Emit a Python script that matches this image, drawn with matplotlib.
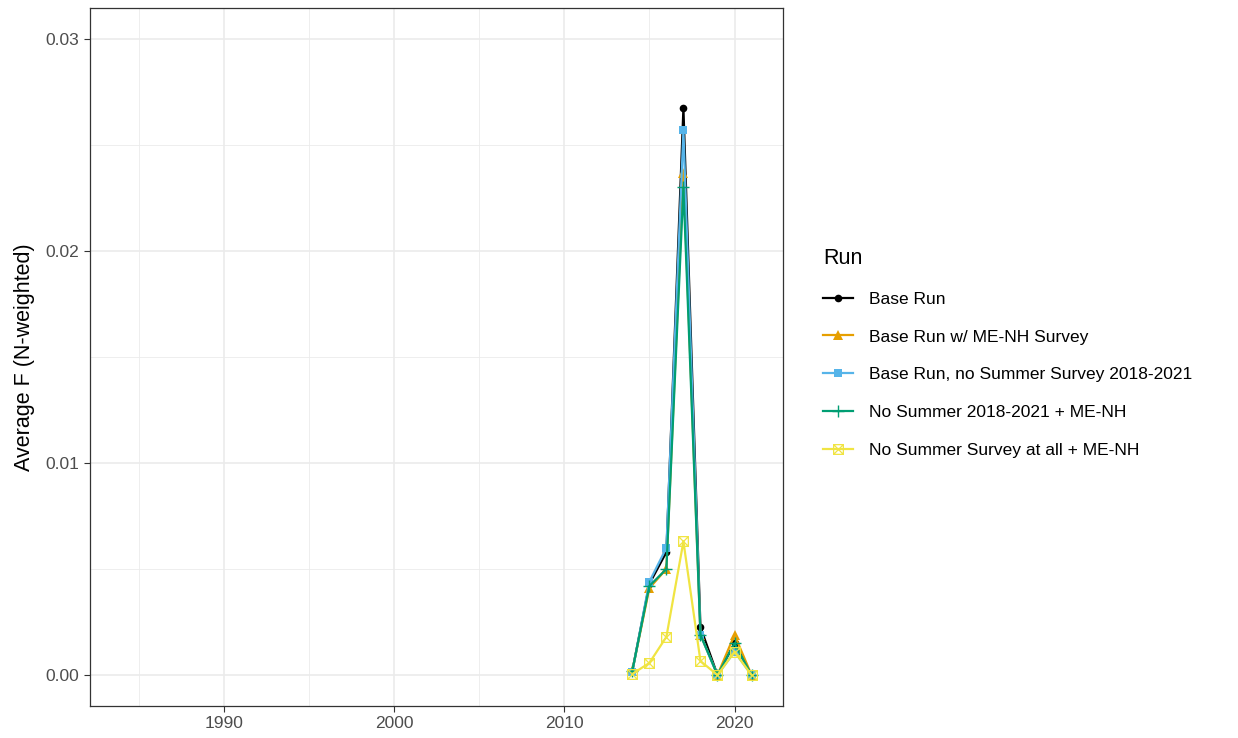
import matplotlib.pyplot as plt
import numpy as np
from matplotlib.path import Path

plt.rcParams['font.family'] = ['Liberation Sans', 'DejaVu Sans']

years = [2014, 2015, 2016, 2017, 2018, 2019, 2020, 2021]
runs = ['Base Run', 'Base Run w/ ME-NH Survey', 'Base Run, no Summer Survey 2018-2021',
        'No Summer 2018-2021 + ME-NH', 'No Summer Survey at all + ME-NH']
base = [0.0002, 0.0043, 0.0058, 0.02675, 0.00226, 0.0, 0.0015, 0.0]
base_menh = [0.0002, 0.0041, 0.0050, 0.0237, 0.0019, 0.0, 0.0019, 0.0]
base_nosummer = [0.00015, 0.0044, 0.0060, 0.0257, 0.0019, 0.0, 0.0011, 0.0]
nosummer_menh = [0.0002, 0.0042, 0.0050, 0.0230, 0.0019, 0.0, 0.0015, 0.0]
nosummer_all = [0.00005, 0.00057, 0.0018, 0.0063, 0.00066, 0.0, 0.0011, 0.0]
series = [base, base_menh, base_nosummer, nosummer_menh, nosummer_all]

colors = ['#000000', '#E69F00', '#56B4E9', '#009E73', '#F0E442']

# square with a cross inside (ggplot shape 7)
sqx = Path([(-1, -1), (1, -1), (1, 1), (-1, 1), (-1, -1), (-1, -1), (1, 1), (-1, 1), (1, -1)],
           [Path.MOVETO, Path.LINETO, Path.LINETO, Path.LINETO, Path.CLOSEPOLY,
            Path.MOVETO, Path.LINETO, Path.MOVETO, Path.LINETO])
markers = ['o', '^', 's', '+', sqx]
msizes = [5.5, 7, 6, 9, 7]

fig = plt.figure(figsize=(12.38, 7.38), dpi=100)
ax = fig.add_axes([0.0727, 0.0434, 0.5598, 0.9456])

handles = []
for vals, c, m, ms, name in zip(series, colors, markers, msizes, runs):
    if m is sqx:
        kw = dict(markerfacecolor='none', markeredgewidth=0.9)
    elif m == '+':
        kw = dict(markeredgewidth=1.0)
    else:
        kw = dict(markeredgewidth=0)
    ln, = ax.plot(years, vals, color=c, marker=m, markersize=ms, linewidth=1.6, label=name, **kw)
    handles.append(ln)

ax.set_xlim(1982.15, 2022.85)
ax.set_ylim(-0.00146, 0.03146)
ax.set_xticks([1990, 2000, 2010, 2020])
ax.set_xticks([1985, 1995, 2005, 2015], minor=True)
ax.set_yticks([0.0, 0.01, 0.02, 0.03])
ax.set_yticklabels(['0.00', '0.01', '0.02', '0.03'])
ax.set_yticks([0.005, 0.015, 0.025], minor=True)
ax.grid(which='major', color='#EBEBEB', linewidth=1.2)
ax.grid(which='minor', color='#EBEBEB', linewidth=0.6)
ax.set_axisbelow(True)
ax.tick_params(which='major', colors='#333333', labelcolor='#4D4D4D', labelsize=12.5, length=4)
ax.tick_params(which='minor', length=0)
for s in ax.spines.values():
    s.set_color('#333333')
    s.set_linewidth(0.9)
ax.set_ylabel('Average F (N-weighted)', fontsize=15.5, labelpad=8)

leg = fig.legend(handles=handles, labels=runs, loc='upper left', bbox_to_anchor=(0.652, 0.685),
                 frameon=False, title='Run', title_fontsize=15.5, fontsize=12.5,
                 handlelength=1.75, labelspacing=1.3, handletextpad=0.9)
leg._legend_box.align = 'left'

fig.savefig('out.png', dpi=100)
